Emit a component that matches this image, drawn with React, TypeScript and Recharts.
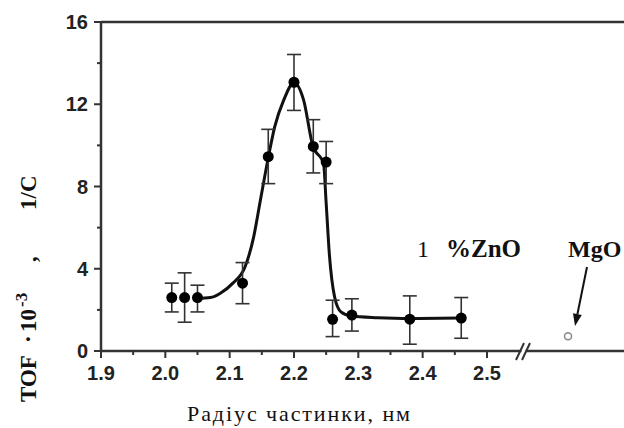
import React from "react";
import {
  ComposedChart,
  Line,
  Scatter,
  ErrorBar,
  XAxis,
  YAxis,
  ReferenceLine
} from "recharts";

// measured points (particle radius, nm -> TOF·10^-3, 1/s)
const radius = [2.01, 2.03, 2.05, 2.12, 2.16, 2.2, 2.23, 2.25, 2.26, 2.29, 2.38, 2.46];
const tof = [2.6, 2.6, 2.6, 3.3, 9.45, 13.07, 9.95, 9.19, 1.54, 1.75, 1.55, 1.6];
const tofLow = [1.9, 1.4, 1.9, 2.3, 8.14, 11.7, 8.66, 8.14, 0.7, 0.97, 0.33, 0.62];
const tofHigh = [3.3, 3.8, 3.2, 4.3, 10.78, 14.42, 11.25, 10.19, 2.47, 2.54, 2.68, 2.6];

// fitted curve
const curveR = [
  2.05, 2.07, 2.085, 2.105, 2.124, 2.137, 2.147, 2.16, 2.17, 2.184, 2.2, 2.215, 2.229,
  2.246, 2.25, 2.255, 2.263, 2.273, 2.289, 2.33, 2.38, 2.46
];
const curveT = [
  2.55, 2.6, 2.8, 3.3, 4.1, 5.5, 7.2, 9.4, 10.9, 12.2, 13.05, 12.2, 10.0, 9.1, 7.2, 4.7,
  2.65, 1.9, 1.7, 1.62, 1.58, 1.6
];

// MgO reference point
const mgoR = [2.626];
const mgoT = [0.72];

const xTicks = [1.9, 1.95, 2.0, 2.05, 2.1, 2.15, 2.2, 2.25, 2.3, 2.35, 2.4, 2.45, 2.5];
const yTicks = [0, 2, 4, 6, 8, 10, 12, 14, 16];

const points = radius.map((x, i) => ({
  x,
  y: tof[i],
  err: [tof[i] - tofLow[i], tofHigh[i] - tof[i]]
}));
const curve = curveR.map((x, i) => ({ x, y: curveT[i] }));
const mgo = mgoR.map((x, i) => ({ x, y: mgoT[i] }));

const axisColor = "#333";
const tickFont = { fontFamily: "Liberation Sans, Arial, sans-serif", fontWeight: 700, fontSize: 20, fill: "#222" };
const serif = "Liberation Serif, Times New Roman, serif";

const YTick = (props: any) => {
  const { x, y, payload } = props;
  const major = payload.value % 4 === 0;
  return (
    <g>
      <line x1={x} x2={x - (major ? 7 : 4)} y1={y} y2={y} stroke={axisColor} strokeWidth={2} />
      {major && (
        <text x={x - 13} y={y} dy="0.36em" textAnchor="end" {...tickFont}>
          {payload.value}
        </text>
      )}
    </g>
  );
};

const XTick = (props: any) => {
  const { x, y, payload } = props;
  const major = Math.round(payload.value * 100) % 10 === 0;
  return (
    <g>
      <line x1={x} x2={x} y1={y} y2={y + (major ? 7 : 4)} stroke={axisColor} strokeWidth={2} />
      {major && (
        <text x={x} y={y + 15} dy="0.71em" textAnchor="middle" {...tickFont}>
          {payload.value.toFixed(1)}
        </text>
      )}
    </g>
  );
};

const Dot = (props: any) => <circle cx={props.cx} cy={props.cy} r={5.5} fill="#000" />;
const OpenDot = (props: any) => (
  <circle cx={props.cx} cy={props.cy} r={3.5} fill="#fff" stroke="#888" strokeWidth={1.5} />
);

export default function App() {
  return (
    <div style={{ position: "absolute", left: 0, top: 0, width: 624, height: 428, background: "#fff" }}>
      <ComposedChart width={624} height={428} margin={{ top: 22, right: 0, bottom: 0, left: 0 }}>
        <XAxis
          type="number"
          dataKey="x"
          domain={[1.9, 2.713]}
          allowDataOverflow
          ticks={xTicks}
          interval={0}
          tickSize={0}
          tickMargin={0}
          tickLine={false}
          tick={<XTick />}
          height={77}
          axisLine={{ stroke: axisColor, strokeWidth: 2.5 }}
        />
        <YAxis
          type="number"
          dataKey="y"
          domain={[0, 16]}
          allowDataOverflow
          ticks={yTicks}
          interval={0}
          tickSize={0}
          tickMargin={0}
          tickLine={false}
          tick={<YTick />}
          width={101}
          axisLine={{ stroke: axisColor, strokeWidth: 2.5 }}
        />
        <ReferenceLine y={16} stroke={axisColor} strokeWidth={2.5} />
        <Line
          data={curve}
          dataKey="y"
          type="monotone"
          stroke="#111"
          strokeWidth={3}
          dot={false}
          isAnimationActive={false}
        />
        <Scatter data={points} dataKey="y" shape={<Dot />} isAnimationActive={false}>
          <ErrorBar dataKey="err" direction="y" width={7} stroke="#333" strokeWidth={1.6} />
        </Scatter>
        <Scatter data={mgo} dataKey="y" shape={<OpenDot />} isAnimationActive={false} />
      </ComposedChart>

      <svg
        width={624}
        height={428}
        style={{ position: "absolute", left: 0, top: 0, pointerEvents: "none" }}
      >
        {/* axis break */}
        <rect x={521.5} y={347} width={4} height={8} fill="#fff" />
        <line x1={516} y1={360} x2={524} y2={343} stroke={axisColor} strokeWidth={2} />
        <line x1={522} y1={360} x2={530} y2={343} stroke={axisColor} strokeWidth={2} />

        {/* annotations */}
        <text x={417} y={257} fontFamily={serif} fontSize={24} fill="#111">
          1
        </text>
        <text x={446} y={257} fontFamily={serif} fontWeight={700} fontSize={25} fill="#111">
          %ZnO
        </text>
        <text x={568} y={257} fontFamily={serif} fontWeight={700} fontSize={24} fill="#111">
          MgO
        </text>
        <line x1={587} y1={267} x2={577.4} y2={314.2} stroke="#111" strokeWidth={2} />
        <polygon points="575,326 581.8,315.1 573,313.3" fill="#111" />

        {/* y axis title */}
        <text
          transform="translate(36, 402) rotate(-90)"
          fontFamily={serif}
          fontWeight={700}
          fontSize={23}
          fill="#111"
        >
          <tspan x={0}>TOF</tspan>
          <tspan x={59}>·</tspan>
          <tspan x={70}>10</tspan>
          <tspan x={95} dy={-9} fontSize={17}>-3</tspan>
          <tspan x={140} dy={9}>,</tspan>
          <tspan x={192}>1/C</tspan>
        </text>

        {/* x axis title */}
        <text x={187} y={421} fontFamily={serif} fontSize={22} fill="#111" textLength={223} lengthAdjust="spacing">
          Радіус частинки, нм
        </text>
      </svg>
    </div>
  );
}
